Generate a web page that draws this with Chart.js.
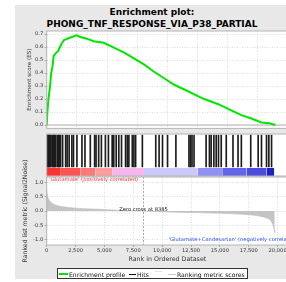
<!DOCTYPE html>
<html>
<head>
<meta charset="utf-8">
<script src="https://cdn.jsdelivr.net/npm/chart.js"></script>
<style>
html, body { margin: 0; padding: 0; width: 286px; height: 282px; overflow: hidden; background: #fff; font-family: 'DejaVu Sans', sans-serif; }
#panel { position: absolute; left: 15px; top: 5px; width: 290px; height: 274px; background: #e8e8e8; }
canvas { position: absolute; left: 0; }
#title { position: absolute; left: 15px; width: 274px; top: 5.5px; text-align: center; font-weight: bold; font-size: 9px; line-height: 12.3px; color: #000; }
#legend { position: absolute; left: 57px; top: 268px; width: 191px; height: 11px; box-sizing: border-box; border: 1px solid #333; background: #fff; font-size: 6.1px; color: #000; will-change: transform; }
#legend span { position: absolute; top: 1.5px; white-space: nowrap; color: #111; }
#legend i { position: absolute; display: block; }
</style>
</head>
<body>
<div id="panel"></div>
<div id="title">Enrichment plot:<br>PHONG_TNF_RESPONSE_VIA_P38_PARTIAL</div>
<canvas id="es" width="300" height="133" style="top:0"></canvas>
<canvas id="hits" width="300" height="44" style="top:133px"></canvas>
<canvas id="metric" width="300" height="132" style="top:150px"></canvas>
<div id="legend">
  <i style="left:1px;top:4px;width:9px;height:2px;background:#00e000"></i><span style="left:11px">Enrichment profile</span>
  <i style="left:71px;top:4.5px;width:7px;height:1px;background:#000"></i><span style="left:79px">Hits</span>
  <i style="left:97px;top:2px;width:7px;height:1px;background:#e2e2e2"></i>
  <i style="left:110px;top:4.5px;width:8px;height:1px;background:#cccccc"></i><span style="left:119px">Ranking metric scores</span>
</div>
<script>
// running enrichment score
const esRank  = [0, 60, 150, 290, 390, 500, 600, 750, 1000, 1250, 1500, 2000, 2600, 2900, 3480, 4060, 4935, 5810, 6680, 7550, 8425, 9300, 10170, 11040, 12200, 12780, 13650, 14820, 15990, 16860, 17730, 18600, 19300, 19800];
const esScore = [0, 0.10, 0.20, 0.30, 0.40, 0.45, 0.53, 0.55, 0.57, 0.62, 0.655, 0.672, 0.69, 0.678, 0.665, 0.645, 0.633, 0.596, 0.559, 0.514, 0.467, 0.41, 0.36, 0.31, 0.262, 0.236, 0.2, 0.162, 0.113, 0.076, 0.05, 0.02, 0.013, 0];

// positions of the gene set members in the ranked list
const hitRanks = [20, 60, 110, 150, 200, 260, 310, 370, 480, 540, 600, 660, 720, 780, 920, 990, 1050, 1120, 1200,
  1378, 1640, 1770, 1945, 2180, 2320, 2617, 3053, 3314, 3777, 4152, 4274, 4500, 4736, 5085, 5347, 5670, 5809,
  6018, 6245, 6480, 6829, 6978, 7117, 7414, 7553, 7702, 8286, 9446, 9734, 10030, 10466, 11190, 12324, 12455,
  12586, 12760, 13807, 14095, 14243, 14479, 14680, 14880, 15116, 15552, 16136, 16572, 16860, 17671, 18316,
  18604, 19040, 19241, 19476];

// ranked list metric (Signal2Noise)
const metricRank  = [0, 60, 150, 290, 500, 725, 1100, 1720, 2500, 3200, 4650, 6100, 7500, 8385, 9500, 10470, 12000, 13370, 15000, 16280, 17200, 18020, 18700, 19190, 19450, 19620, 19700, 19750];
const metricValue = [0.72, 0.55, 0.42, 0.33, 0.26, 0.21, 0.17, 0.13, 0.1, 0.08, 0.06, 0.03, 0.012, 0, -0.02, -0.035, -0.05, -0.06, -0.08, -0.1, -0.12, -0.15, -0.2, -0.26, -0.35, -0.5, -0.65, -0.75];

// colour bar breaks along the ranked list
const barEdges = [0, 1160, 2905, 4210, 5670, 8425, 13080, 15265, 17300, 19040, 19710];
const barPalette = ['#ff3030', '#ff5252', '#ff7878', '#ff9c9c', '#f6b6ee', '#cacafc', '#9090f6', '#6464e8', '#4c4cdd', '#2020c8'];

const zeroCross = 8385;
const xTicks = [0, 2500, 5000, 7500, 10000, 12500, 15000, 17500, 20000];
const posLabel = "'Glutamate' (positively correlated)";
const negLabel = "'Glutamate+Candesartan' (negatively correlated)";

const X_MAX = 20900;
const LEFT = 46.7, RIGHT = 288;
Chart.defaults.font.family = "'DejaVu Sans', sans-serif";
Chart.defaults.color = '#333';

const plotFrame = {
  id: 'plotFrame',
  beforeDraw(chart) {
    const { ctx, chartArea: a } = chart;
    ctx.save();
    ctx.fillStyle = '#fff';
    ctx.fillRect(a.left, a.top, a.right - a.left, a.bottom - a.top);
    ctx.restore();
  },
  afterDraw(chart) {
    const { ctx, chartArea: a } = chart;
    ctx.save();
    ctx.strokeStyle = '#b4b4b4';
    ctx.lineWidth = 1;
    ctx.strokeRect(a.left, a.top, a.right - a.left, a.bottom - a.top);
    ctx.restore();
  }
};

const fmtX = v => v.toLocaleString('en-US');
const gridStyle = { color: '#d4d4d4', lineWidth: 0.8, drawTicks: false };

// --- enrichment score chart
new Chart(document.getElementById('es'), {
  type: 'line',
  data: {
    datasets: [{
      data: esRank.map((r, i) => ({ x: r, y: esScore[i] })),
      borderColor: '#00e600', borderWidth: 2, pointRadius: 0, tension: 0
    }, {
      data: [{ x: 0, y: 0 }, { x: X_MAX, y: 0 }],
      borderColor: '#b0b0b0', borderWidth: 1, pointRadius: 0
    }]
  },
  options: {
    responsive: false, animation: false,
    layout: { padding: { left: 26, right: 300 - RIGHT, top: 31, bottom: 1 } },
    plugins: { legend: { display: false }, tooltip: { enabled: false } },
    scales: {
      x: {
        type: 'linear', min: 0, max: X_MAX,
        ticks: { display: false, stepSize: 2500, includeBounds: false },
        grid: gridStyle, border: { display: false, dash: [1, 1.5] },
        afterFit: s => { s.height = 0; }
      },
      y: {
        min: -0.026, max: 0.724,
        ticks: { stepSize: 0.1, includeBounds: false, padding: 1.5, font: { size: 5.2 }, callback: v => v.toFixed(1) },
        grid: { color: '#d4d4d4', lineWidth: 0.8, drawTicks: true, tickLength: 2, tickColor: '#999' },
        border: { display: false, dash: [1, 1.5] },
        title: { display: true, text: 'Enrichment score (ES)', font: { size: 5.6 }, padding: 0 },
        afterFit: s => { s.width = LEFT - 26; }
      }
    }
  },
  plugins: [plotFrame]
});

// --- hits and colour bar
const colourSets = barPalette.map((c, i) => ({
  type: 'line',
  data: [{ x: barEdges[i], y: 0.19 }, { x: barEdges[i + 1], y: 0.19 }],
  borderWidth: 0, pointRadius: 0, backgroundColor: c, fill: 'origin'
}));
new Chart(document.getElementById('hits'), {
  type: 'bar',
  data: {
    datasets: [{
      data: hitRanks.map(r => ({ x: r, y: [0.214, 0.976] })),
      backgroundColor: '#1c1c1c', barThickness: 1, borderWidth: 0
    }, ...colourSets]
  },
  options: {
    responsive: false, animation: false,
    layout: { padding: { left: LEFT, right: 300 - RIGHT, top: 1, bottom: 1 } },
    plugins: { legend: { display: false }, tooltip: { enabled: false } },
    scales: {
      x: { type: 'linear', min: 0, max: X_MAX, offset: false, display: false },
      y: { type: 'linear', min: 0, max: 1, display: false }
    }
  },
  plugins: [plotFrame]
});

// --- ranked list metric
const metricNotes = {
  id: 'metricNotes',
  afterDatasetsDraw(chart) {
    const { ctx, chartArea: a, scales: { x, y } } = chart;
    ctx.save();
    const zx = x.getPixelForValue(zeroCross);
    ctx.strokeStyle = '#a8a8a8';
    ctx.setLineDash([2, 1.5]);
    ctx.lineWidth = 1;
    ctx.beginPath();
    ctx.moveTo(zx, a.top);
    ctx.lineTo(zx, a.bottom);
    ctx.stroke();
    ctx.setLineDash([]);
    ctx.font = "5.2px 'DejaVu Sans'";
    ctx.textBaseline = 'middle';
    ctx.fillStyle = '#ff3030';
    ctx.textAlign = 'left';
    ctx.fillText(posLabel, a.left + 2.5, a.top + 3);
    ctx.fillStyle = '#222';
    ctx.textAlign = 'center';
    ctx.fillText('Zero cross at ' + zeroCross, zx, y.getPixelForValue(0) - 1);
    ctx.fillStyle = '#2f55ff';
    ctx.fillText(negLabel, x.getPixelForValue(16130), a.bottom - 5);
    ctx.restore();
  }
};
new Chart(document.getElementById('metric'), {
  type: 'line',
  data: {
    datasets: [{
      data: metricRank.map((r, i) => ({ x: r, y: metricValue[i] })),
      borderColor: '#bdbdbd', borderWidth: 0.6, backgroundColor: '#c4c4c4',
      fill: 'origin', pointRadius: 0, tension: 0
    }]
  },
  options: {
    responsive: false, animation: false,
    layout: { padding: { left: 21.3, right: 300 - RIGHT, top: 27, bottom: 132 - 112.8 } },
    plugins: { legend: { display: false }, tooltip: { enabled: false } },
    scales: {
      x: {
        type: 'linear', min: 0, max: X_MAX,
        afterBuildTicks: s => { s.ticks = xTicks.map(v => ({ value: v })); },
        ticks: { font: { size: 5.2 }, padding: 0.5, maxRotation: 0, autoSkip: false, callback: v => fmtX(v) },
        grid: { color: '#d4d4d4', lineWidth: 0.8, drawTicks: true, tickLength: 2, tickColor: '#999' },
        border: { display: false, dash: [1, 1.5] },
        title: { display: true, text: 'Rank in Ordered Dataset', font: { size: 6.3 }, padding: 0 },
        afterFit: s => { s.height = 17.8; }
      },
      y: {
        min: -1.187, max: 1.187,
        ticks: { stepSize: 0.5, includeBounds: false, padding: 1.5, font: { size: 5.2 }, callback: v => v.toFixed(1) },
        grid: { color: '#d4d4d4', lineWidth: 0.8, drawTicks: true, tickLength: 2, tickColor: '#999' },
        border: { display: false, dash: [1, 1.5] },
        title: { display: true, text: 'Ranked list metric (Signal2Noise)', font: { size: 6.2 }, padding: 0 },
        afterFit: s => { s.width = LEFT - 21.3; }
      }
    }
  },
  plugins: [plotFrame, metricNotes]
});
</script>
</body>
</html>
